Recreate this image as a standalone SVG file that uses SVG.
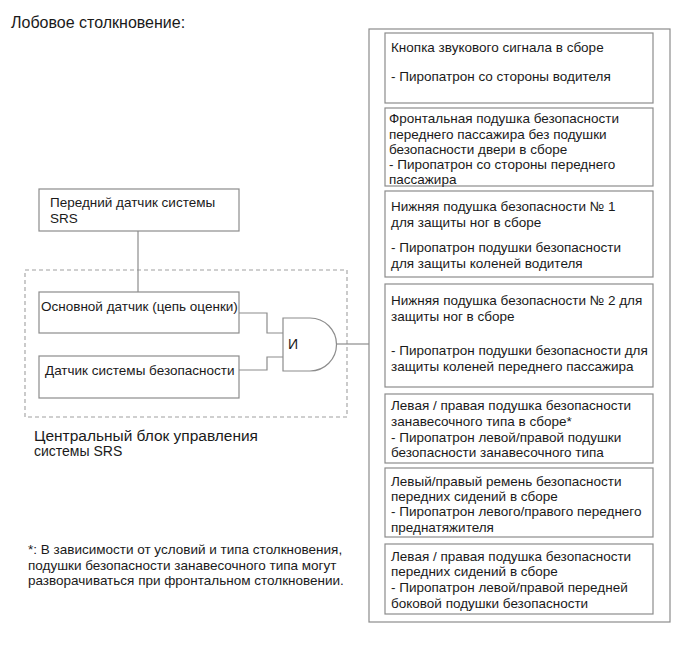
<svg xmlns="http://www.w3.org/2000/svg" width="689" height="659" viewBox="0 0 689 659">
<style>
text{font-family:"Liberation Sans",Arial,sans-serif;font-size:13.5px;fill:#1a1a1a}
.box{fill:#fff;stroke:#8c8c8c;stroke-width:1.2}
.ln{fill:none;stroke:#8c8c8c;stroke-width:1.2}
.dash{fill:none;stroke:#a0a0a0;stroke-width:1.1;stroke-dasharray:4 3}
</style>
<rect width="689" height="659" fill="#fff"/>
<text x="11" y="28" style="font-size:16px">Лобовое столкновение:</text>

<g id="ecu-frame">
<rect class="dash" x="25" y="270" width="322" height="147"/>
<text x="34" y="441" style="font-size:14px" textLength="224" lengthAdjust="spacingAndGlyphs">Центральный блок управления</text>
<text x="34" y="456" style="font-size:14px">системы SRS</text>
</g>

<g id="connectors">
<path class="ln" d="M138,231V292"/>
<path class="ln" d="M239,313H267V333H283"/>
<path class="ln" d="M239,370H267V357H283"/>
<path class="ln" d="M337,344H369"/>
</g>

<g id="front-sensor">
<rect class="box" x="39" y="189" width="200" height="42"/>
<text x="50" y="207">Передний датчик системы</text>
<text x="50" y="223">SRS</text>
</g>

<g id="main-sensor">
<rect class="box" x="39" y="292" width="200" height="41"/>
<text x="41" y="311">Основной датчик (цепь оценки)</text>
</g>

<g id="safing-sensor">
<rect class="box" x="39" y="356" width="200" height="42"/>
<text x="45" y="375">Датчик системы безопасности</text>
</g>

<g id="and-gate">
<path class="box" d="M283,318H310A26.5,26.5 0 0 1 310,371H283Z"/>
<text x="288" y="349" style="font-size:14px">И</text>
</g>

<g id="outputs">
<rect class="box" x="369" y="29" width="301" height="593"/>
</g>

<g id="out1">
<rect class="box" x="385" y="33" width="268" height="70"/>
<text x="391" y="52">Кнопка звукового сигнала в сборе</text>
<text x="391" y="81">- Пиропатрон со стороны водителя</text>
</g>

<g id="out2">
<rect class="box" x="385" y="108" width="268" height="78"/>
<text x="389" y="123">Фронтальная подушка безопасности</text>
<text x="389" y="139">переднего пассажира без подушки</text>
<text x="389" y="154">безопасности двери в сборе</text>
<text x="389" y="169">- Пиропатрон со стороны переднего</text>
<text x="389" y="184">пассажира</text>
</g>

<g id="out3">
<rect class="box" x="385" y="191" width="268" height="86"/>
<text x="391" y="211">Нижняя подушка безопасности № 1</text>
<text x="391" y="227">для защиты ног в сборе</text>
<text x="391" y="252">- Пиропатрон подушки безопасности</text>
<text x="391" y="268">для защиты коленей водителя</text>
</g>

<g id="out4">
<rect class="box" x="385" y="284" width="268" height="103"/>
<text x="391" y="305">Нижняя подушка безопасности № 2 для</text>
<text x="391" y="321">защиты ног в сборе</text>
<text x="391" y="355">- Пиропатрон подушки безопасности для</text>
<text x="391" y="371">защиты коленей переднего пассажира</text>
</g>

<g id="out5">
<rect class="box" x="385" y="394" width="268" height="69"/>
<text x="391" y="410">Левая / правая подушка безопасности</text>
<text x="391" y="426">занавесочного типа в сборе*</text>
<text x="391" y="442">- Пиропатрон левой/правой подушки</text>
<text x="391" y="457">безопасности занавесочного типа</text>
</g>

<g id="out6">
<rect class="box" x="385" y="468" width="268" height="69"/>
<text x="391" y="486">Левый/правый ремень безопасности</text>
<text x="391" y="501">передних сидений в сборе</text>
<text x="391" y="516">- Пиропатрон левого/правого переднего</text>
<text x="391" y="532">преднатяжителя</text>
</g>

<g id="out7">
<rect class="box" x="385" y="544" width="268" height="70"/>
<text x="391" y="561">Левая / правая подушка безопасности</text>
<text x="391" y="576">передних сидений в сборе</text>
<text x="391" y="592">- Пиропатрон левой/правой передней</text>
<text x="391" y="608">боковой подушки безопасности</text>
</g>

<g id="footnote">
<text x="28" y="554">*: В зависимости от условий и типа столкновения,</text>
<text x="28" y="570">подушки безопасности занавесочного типа могут</text>
<text x="28" y="585">разворачиваться при фронтальном столкновении.</text>
</g>
</svg>
